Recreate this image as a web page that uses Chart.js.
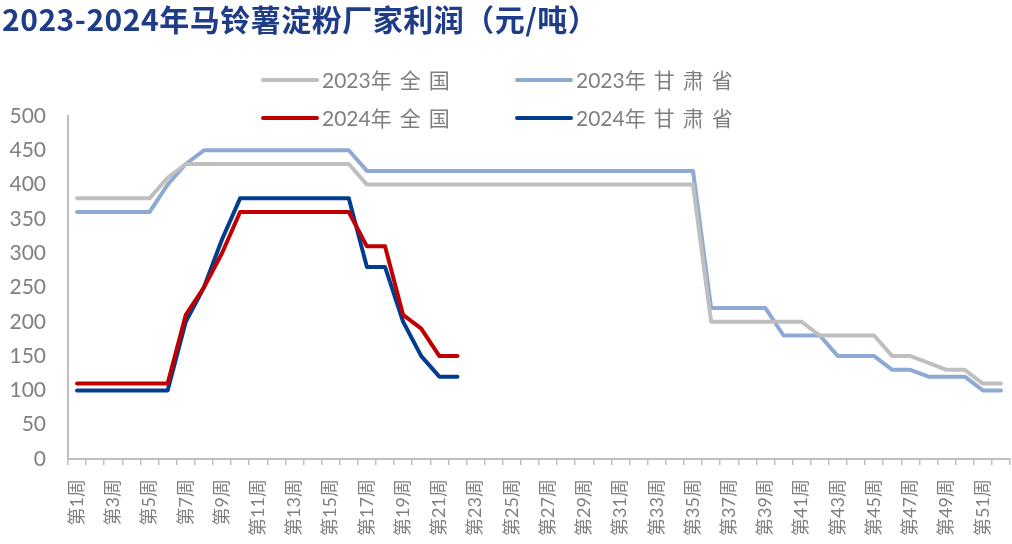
<!DOCTYPE html>
<html>
<head>
<meta charset="utf-8">
<script src="https://cdn.jsdelivr.net/npm/chart.js@4.4.1/dist/chart.umd.min.js"></script>
<style>
  html, body { margin: 0; padding: 0; background: #fff; }
  #wrap { position: relative; width: 1012px; height: 544px; }
</style>
</head>
<body>
<div id="wrap"><canvas id="myChart" width="1012" height="544"></canvas></div>
<script>
// 周次
const weeks = [];
for (let i = 1; i <= 52; i++) weeks.push("第" + i + "周");

const national2023 = [380, 380, 380, 380, 380, 410, 430, 430, 430, 430,
  430, 430, 430, 430, 430, 430, 400, 400, 400, 400,
  400, 400, 400, 400, 400, 400, 400, 400, 400, 400,
  400, 400, 400, 400, 400, 200, 200, 200, 200, 200,
  200, 180, 180, 180, 180, 150, 150, 140, 130, 130,
  110, 110];
const gansu2023 = [360, 360, 360, 360, 360, 400, 430, 450, 450, 450,
  450, 450, 450, 450, 450, 450, 420, 420, 420, 420,
  420, 420, 420, 420, 420, 420, 420, 420, 420, 420,
  420, 420, 420, 420, 420, 220, 220, 220, 220, 180,
  180, 180, 150, 150, 150, 130, 130, 120, 120, 120,
  100, 100];
const national2024 = [110, 110, 110, 110, 110, 110, 210, 250, 300, 360,
  360, 360, 360, 360, 360, 360, 310, 310, 210, 190,
  150, 150];
const gansu2024 = [100, 100, 100, 100, 100, 100, 200, 250, 320, 380,
  380, 380, 380, 380, 380, 380, 280, 280, 200, 150,
  120, 120];

const yTicks = [0, 50, 100, 150, 200, 250, 300, 350, 400, 450, 500];

const titleText = "2023-2024年马铃薯淀粉厂家利润（元/吨）";
const labelFont = "Lato, 'Noto Sans CJK SC', sans-serif";

// 逐字绘制，汉字之间留一点空
function spacedText(c, text, x, y) {
  for (const ch of text) {
    c.fillText(ch, x, y);
    x += c.measureText(ch).width + (/[\u4e00-\u9fff]/.test(ch) ? 8 : 0);
  }
}

// 标题和图例（图例压在绘图区上方）
const overlay = {
  id: "overlay",
  afterDraw(chart) {
    const c = chart.ctx;
    c.save();
    c.fillStyle = "#1F3C88";
    c.font = "bold 30px 'Noto Sans CJK SC', sans-serif";
    c.textBaseline = "middle";
    c.textAlign = "left";
    c.letterSpacing = "0.5px";
    c.fillText(titleText, 2, 20);
    c.letterSpacing = "0px";

    const cols = [263, 517];
    const rows = [80, 118];
    c.font = "21px " + labelFont;
    chart.data.datasets.forEach((ds, i) => {
      const x = cols[i % 2];
      const y = rows[Math.floor(i / 2)];
      c.strokeStyle = ds.borderColor;
      c.lineWidth = 4;
      c.lineCap = "round";
      c.beginPath();
      c.moveTo(x, y);
      c.lineTo(x + 54, y);
      c.stroke();
      c.fillStyle = "#7F7F7F";
      spacedText(c, ds.label, x + 59, y + 1);
    });
    c.restore();
  },
};

const ctx = document.getElementById("myChart");
new Chart(ctx, {
  type: "line",
  data: {
    labels: weeks,
    datasets: [
      { label: "2023年全国", data: national2023, borderColor: "#BFBFBF" },
      { label: "2023年甘肃省", data: gansu2023, borderColor: "#8EA9D2" },
      { label: "2024年全国", data: national2024, borderColor: "#C00000" },
      { label: "2024年甘肃省", data: gansu2024, borderColor: "#003D8F" },
    ],
  },
  options: {
    responsive: false,
    animation: false,
    datasets: {
      line: { borderWidth: 4, pointRadius: 0, tension: 0, borderCapStyle: "round", borderJoinStyle: "round" },
    },
    layout: { padding: { top: 116, right: 2, left: 0, bottom: 0 } },
    scales: {
      x: {
        offset: true,
        grid: { display: true, drawOnChartArea: false, drawTicks: true, tickLength: 6, offset: true, color: "#BFBFBF", lineWidth: 1.5 },
        border: { color: "#BFBFBF", width: 2 },
        ticks: {
          autoSkip: false,
          maxRotation: 90,
          minRotation: 90,
          padding: 14,
          color: "#7F7F7F",
          font: { family: labelFont, size: 18 },
          callback: (v, i) => (i % 2 === 0 ? weeks[i] : ""),
        },
        afterFit: (s) => { s.height = 85; s.paddingLeft = 0; s.paddingRight = 0; },
      },
      y: {
        min: 0,
        max: 500,
        afterBuildTicks: (s) => { s.ticks = yTicks.map((v) => ({ value: v })); },
        grid: { display: false },
        border: { color: "#BFBFBF", width: 2 },
        ticks: { color: "#7F7F7F", padding: 14, font: { family: labelFont, size: 21 } },
        afterFit: (s) => { s.width = 68; },
      },
    },
    plugins: {
      legend: { display: false },
      tooltip: { enabled: false },
    },
  },
  plugins: [overlay],
});
</script>
</body>
</html>
